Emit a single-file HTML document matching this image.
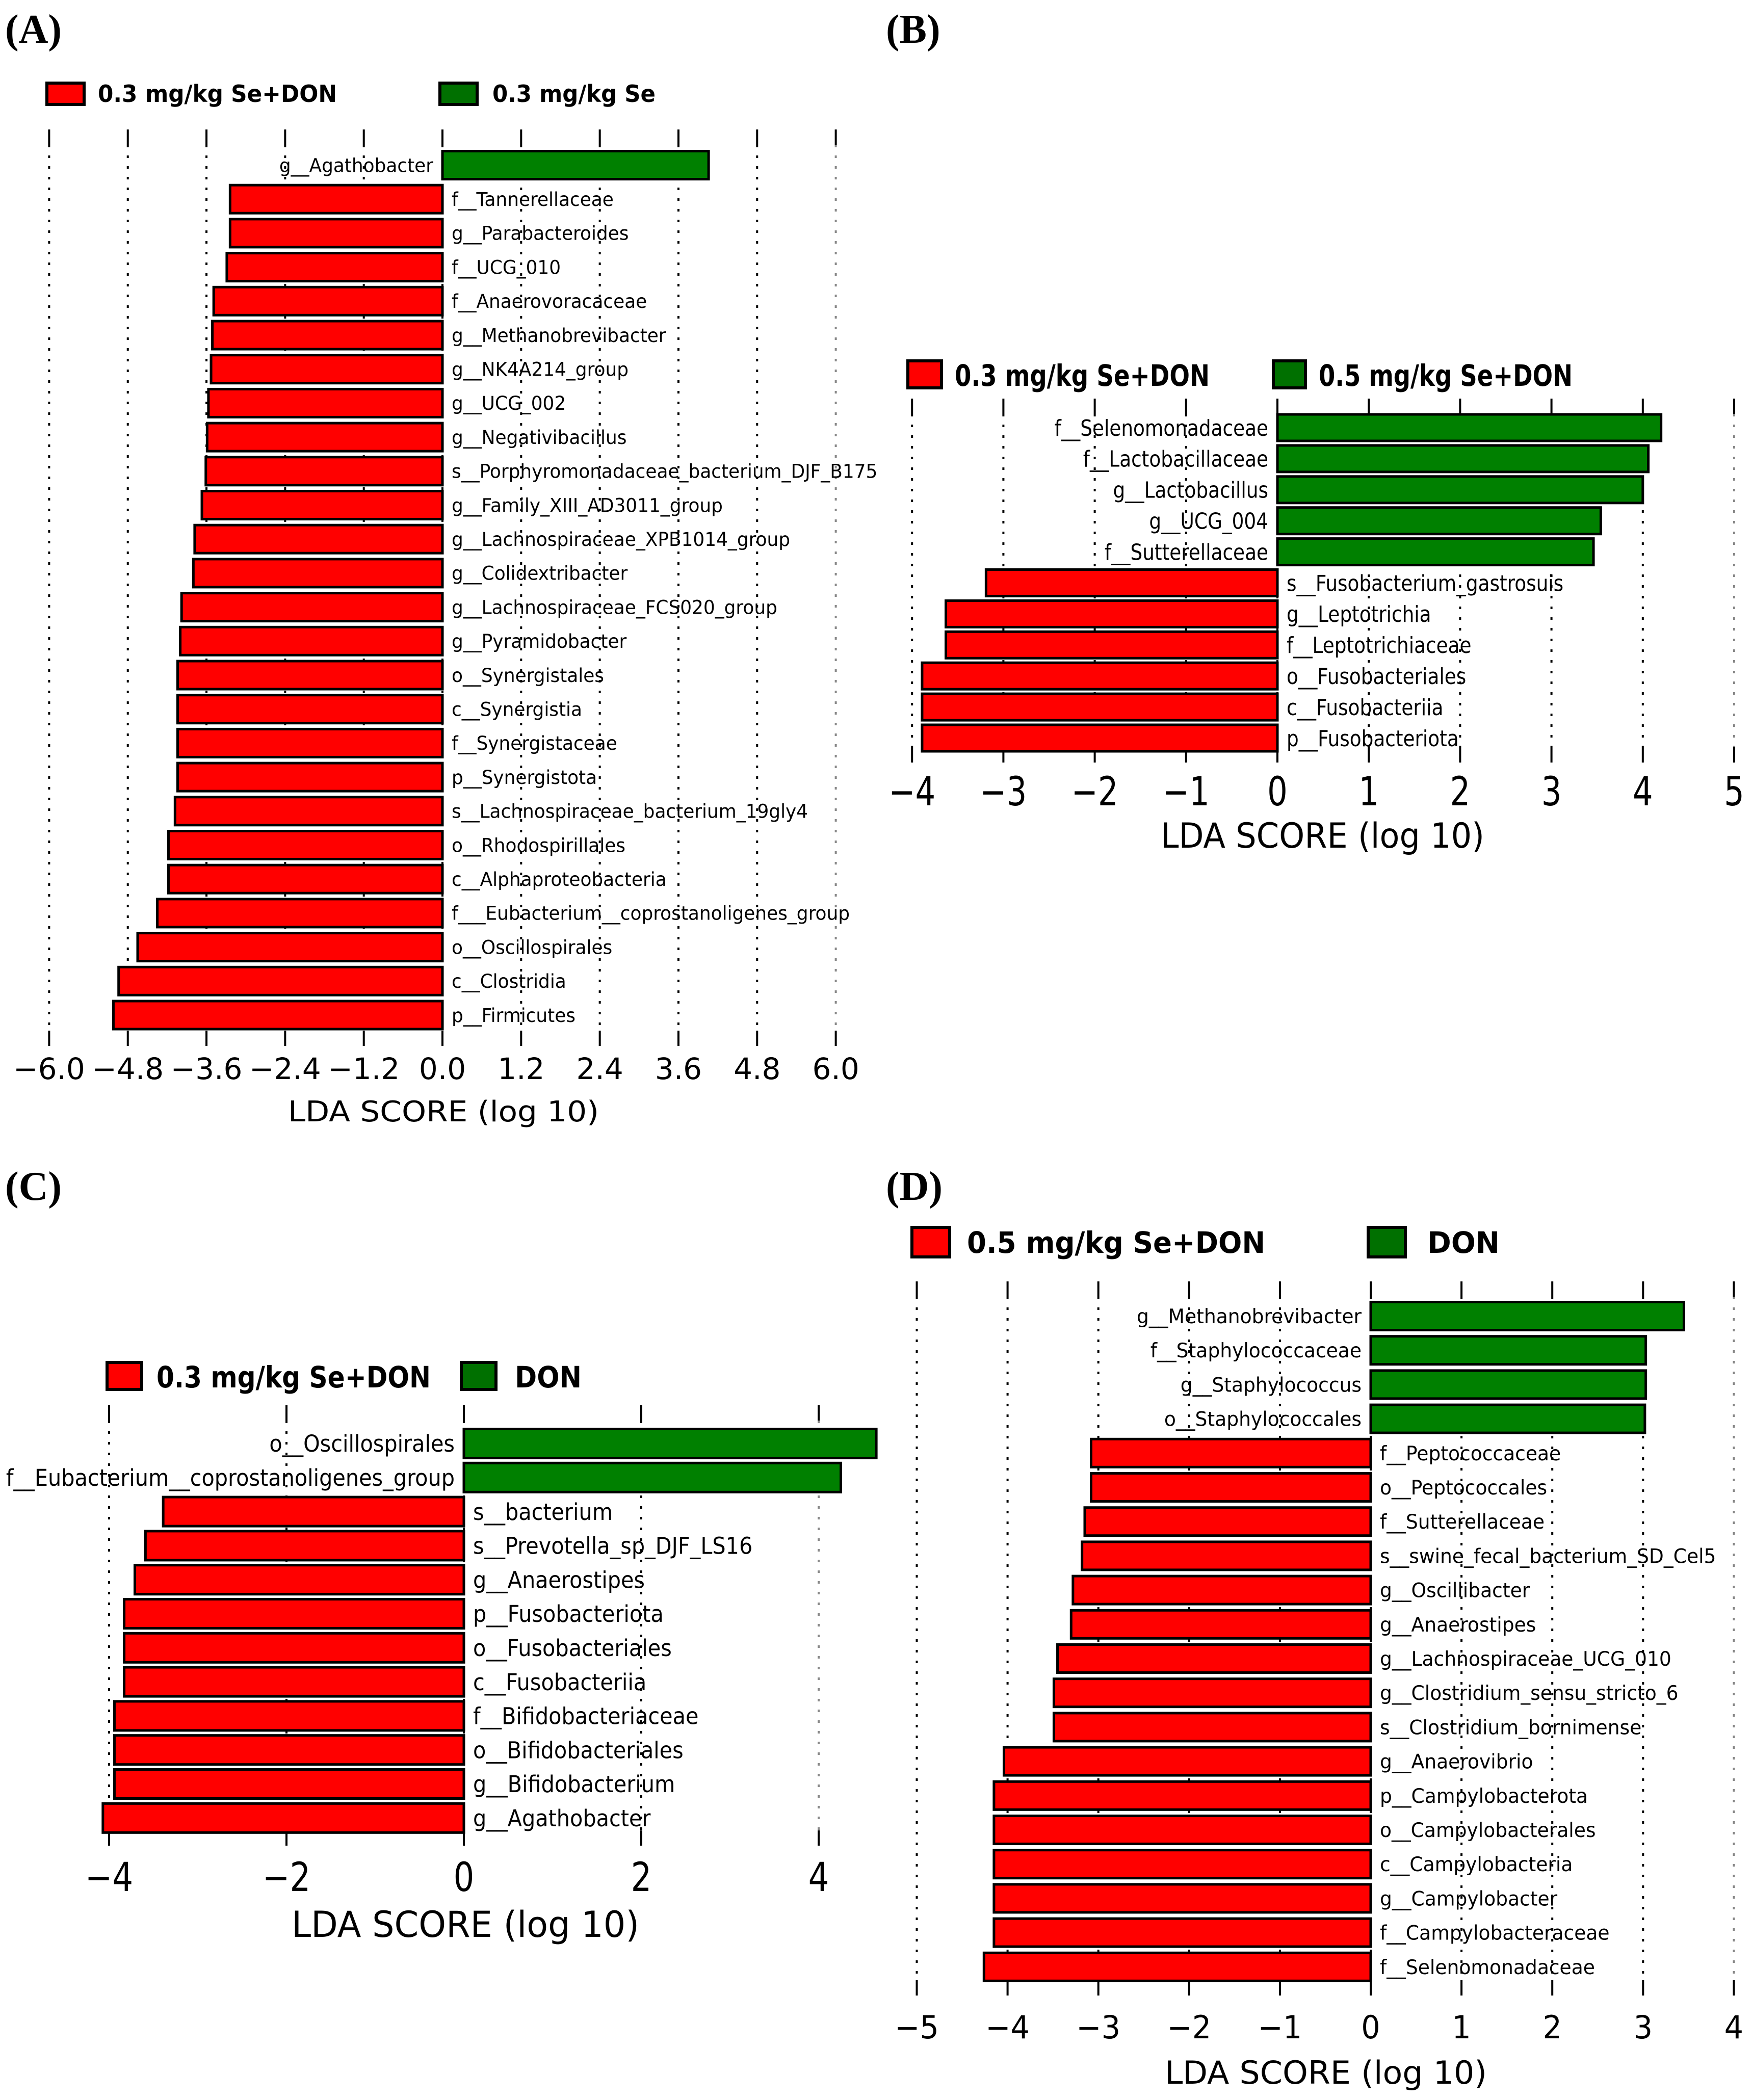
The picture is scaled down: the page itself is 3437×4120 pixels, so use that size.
<!DOCTYPE html>
<html><head><meta charset="utf-8"><style>
html,body{margin:0;padding:0;background:#fff;}
svg{display:block;}
</style></head>
<body>
<svg id="fig" xmlns="http://www.w3.org/2000/svg" width="3437" height="4120" viewBox="0 0 3437 4120">
<rect x="0" y="0" width="3437" height="4120" fill="#fff"/>
<text x="10" y="84" font-family="Liberation Serif, serif" font-weight="bold" font-size="80">(A)</text>
<text x="1738" y="84" font-family="Liberation Serif, serif" font-weight="bold" font-size="80">(B)</text>
<text x="10" y="2354" font-family="Liberation Serif, serif" font-weight="bold" font-size="80">(C)</text>
<text x="1738" y="2354" font-family="Liberation Serif, serif" font-weight="bold" font-size="80">(D)</text>
</svg>
<script>
// ---- Panel A data ----
const catsA = ["g__Agathobacter","f__Tannerellaceae","g__Parabacteroides","f__UCG_010","f__Anaerovoracaceae","g__Methanobrevibacter","g__NK4A214_group","g__UCG_002","g__Negativibacillus","s__Porphyromonadaceae_bacterium_DJF_B175","g__Family_XIII_AD3011_group","g__Lachnospiraceae_XPB1014_group","g__Colidextribacter","g__Lachnospiraceae_FCS020_group","g__Pyramidobacter","o__Synergistales","c__Synergistia","f__Synergistaceae","p__Synergistota","s__Lachnospiraceae_bacterium_19gly4","o__Rhodospirillales","c__Alphaproteobacteria","f___Eubacterium__coprostanoligenes_group","o__Oscillospirales","c__Clostridia","p__Firmicutes"];
const valsA = [4.06,-3.24,-3.24,-3.29,-3.49,-3.51,-3.53,-3.57,-3.59,-3.61,-3.67,-3.78,-3.80,-3.98,-4.00,-4.04,-4.04,-4.04,-4.04,-4.08,-4.18,-4.18,-4.35,-4.65,-4.94,-5.02];
const ticksA = [-6,-4.8,-3.6,-2.4,-1.2,0,1.2,2.4,3.6,4.8,6];
const tickLabelsA = ["\u22126.0","\u22124.8","\u22123.6","\u22122.4","\u22121.2","0.0","1.2","2.4","3.6","4.8","6.0"];
const legendA = ["0.3 mg/kg Se+DON","0.3 mg/kg Se"];
// ---- Panel B data ----
const catsB = ["f__Selenomonadaceae","f__Lactobacillaceae","g__Lactobacillus","g__UCG_004","f__Sutterellaceae","s__Fusobacterium_gastrosuis","g__Leptotrichia","f__Leptotrichiaceae","o__Fusobacteriales","c__Fusobacteriia","p__Fusobacteriota"];
const valsB = [4.20,4.06,4.00,3.54,3.46,-3.19,-3.63,-3.63,-3.89,-3.89,-3.89];
const ticksB = [-4,-3,-2,-1,0,1,2,3,4,5];
const tickLabelsB = ["\u22124","\u22123","\u22122","\u22121","0","1","2","3","4","5"];
const legendB = ["0.3 mg/kg Se+DON","0.5 mg/kg Se+DON"];
// ---- Panel C data ----
const catsC = ["o__Oscillospirales","f__Eubacterium__coprostanoligenes_group","s__bacterium","s__Prevotella_sp_DJF_LS16","g__Anaerostipes","p__Fusobacteriota","o__Fusobacteriales","c__Fusobacteriia","f__Bifidobacteriaceae","o__Bifidobacteriales","g__Bifidobacterium","g__Agathobacter"];
const valsC = [4.65,4.25,-3.39,-3.59,-3.71,-3.83,-3.83,-3.83,-3.94,-3.94,-3.94,-4.07];
const ticksC = [-4,-2,0,2,4];
const tickLabelsC = ["\u22124","\u22122","0","2","4"];
const legendC = ["0.3 mg/kg Se+DON","DON"];
// ---- Panel D data ----
const catsD = ["g__Methanobrevibacter","f__Staphylococcaceae","g__Staphylococcus","o__Staphylococcales","f__Peptococcaceae","o__Peptococcales","f__Sutterellaceae","s__swine_fecal_bacterium_SD_Cel5","g__Oscillibacter","g__Anaerostipes","g__Lachnospiraceae_UCG_010","g__Clostridium_sensu_stricto_6","s__Clostridium_bornimense","g__Anaerovibrio","p__Campylobacterota","o__Campylobacterales","c__Campylobacteria","g__Campylobacter","f__Campylobacteraceae","f__Selenomonadaceae"];
const valsD = [3.45,3.03,3.03,3.02,-3.08,-3.08,-3.15,-3.18,-3.28,-3.30,-3.45,-3.49,-3.49,-4.04,-4.15,-4.15,-4.15,-4.15,-4.15,-4.26];
const ticksD = [-5,-4,-3,-2,-1,0,1,2,3,4];
const tickLabelsD = ["\u22125","\u22124","\u22123","\u22122","\u22121","0","1","2","3","4"];
const legendD = ["0.5 mg/kg Se+DON","DON"];

const NS = "http://www.w3.org/2000/svg";
const svg = document.getElementById('fig');
function mk(tag, attrs, parent){
  const e = document.createElementNS(NS, tag);
  for (const k in attrs) e.setAttribute(k, attrs[k]);
  (parent||svg).appendChild(e);
  return e;
}
function txt(parent, s, x, y, size, family, anchor, sx, weight, tl){
  const t = mk('text', {transform:`translate(${x},${y}) scale(${sx},1)`, 'font-size':size, 'font-family':family, 'text-anchor':anchor, fill:'#000'}, parent);
  if (weight) t.setAttribute('font-weight', weight);
  if (tl){ t.setAttribute('textLength', tl); t.setAttribute('lengthAdjust','spacingAndGlyphs'); }
  t.textContent = s;
  return t;
}

function panel(id, cats, vals, ticks, tickLabels, legend, c){
  const g = mk('g', {});
  
  
  const xs = v => c.zero + v * c.unit;
  const ys = i => c.firstY + i * c.step;
  ticks.forEach((t, i) => {
    const x = xs(t);
    const gl = mk('line', {x1:x, x2:x, y1:c.yTop+30, y2:c.yBot-30, stroke:(i===ticks.length-1?'#888':'#000'), 'stroke-width':4, 'stroke-dasharray':'5 16'}, g);
    
    
    mk('line', {x1:x, x2:x, y1:c.yTop, y2:c.yTop+30, stroke:'#000', 'stroke-width':4}, g);
    mk('line', {x1:x, x2:x, y1:c.yBot-30, y2:c.yBot, stroke:'#000', 'stroke-width':4}, g);
    const tl = txt(g, tickLabels[i], x, c.tickY, c.tickSize, c.tickFont, 'middle', c.tickSx);
    
    
  });
  cats.forEach((name, i) => {
    const v = vals[i], y = ys(i);
    const x1 = Math.min(xs(0), xs(v)), w = Math.abs(xs(v) - xs(0));
    const b = mk('rect', {x:x1, y:y - c.barH/2, width:w, height:c.barH, fill:(v>0?'#008000':'#ff0000'), stroke:'#000', 'stroke-width':5}, g);
    
    
    const lx = v > 0 ? xs(0) - 18 : xs(0) + 18;
    const l = txt(g, name, lx, y + c.labSize*0.36, c.labSize, c.labFont, v > 0 ? 'end' : 'start', c.labSx);
    
    
  });
  const at = txt(g, 'LDA SCORE (log 10)', c.titleX, c.titleY, c.titleSize, c.tickFont, 'start', 1, null, c.titleW);
  
  
  const colors = ['#ff0000','#007000'];
  legend.forEach((s, i) => {
    const L = c.leg[i];
    const r = mk('rect', {x:L.rx, y:c.legTop, width:L.rw, height:c.legH, fill:colors[i], stroke:'#000', 'stroke-width':6}, g);
    
    
    const t = txt(g, s, L.tx, c.legBase, c.legSize, c.legFont, 'start', 1, 'bold', L.tw);
    
    
  });
}

const DJ = '"DejaVu Sans", "Liberation Sans", sans-serif';
panel('a', catsA, valsA, ticksA, tickLabelsA, legendA, {
  zero:868, unit:128.6, yTop:254, yBot:2052, firstY:324, step:66.7, barH:55,
  tickY:2117, tickSize:58, tickFont:DJ, tickSx:1,
  labSize:37, labFont:DJ, labSx:0.97,
  titleX:565, titleY:2200, titleSize:56, titleW:610,
  legTop:163, legH:42, legBase:200, legSize:46, legFont:DJ,
  leg:[{rx:92,rw:73,tx:192,tw:469},{rx:863,rw:73,tx:966,tw:320}]
});
panel('b', catsB, valsB, ticksB, tickLabelsB, legendB, {
  zero:2506, unit:179.2, yTop:782, yBot:1496, firstY:839, step:60.9, barH:52,
  tickY:1580, tickSize:78, tickFont:DJ, tickSx:0.8,
  labSize:44, labFont:DJ, labSx:0.85,
  titleX:2277, titleY:1663, titleSize:68, titleW:635,
  legTop:708, legH:53, legBase:757, legSize:58, legFont:DJ,
  leg:[{rx:1781,rw:66,tx:1873,tw:500},{rx:2498,rw:63,tx:2587,tw:498}]
});
panel('c', catsC, valsC, ticksC, tickLabelsC, legendC, {
  zero:910, unit:174, yTop:2757, yBot:3621, firstY:2832, step:66.8, barH:57,
  tickY:3710, tickSize:78, tickFont:DJ, tickSx:0.82,
  labSize:45, labFont:DJ, labSx:0.92,
  titleX:572, titleY:3800, titleSize:70, titleW:682,
  legTop:2673, legH:53, legBase:2722, legSize:58, legFont:DJ,
  leg:[{rx:210,rw:68,tx:307,tw:538},{rx:905,rw:68,tx:1010,tw:131}]
});
panel('d', catsD, valsD, ticksD, tickLabelsD, legendD, {
  zero:2689, unit:178.1, yTop:2514, yBot:3915, firstY:2582, step:67.2, barH:55,
  tickY:3999, tickSize:62, tickFont:DJ, tickSx:0.95,
  labSize:39, labFont:DJ, labSx:0.965,
  titleX:2285, titleY:4088, titleSize:62, titleW:632,
  legTop:2408, legH:58, legBase:2458, legSize:58, legFont:DJ,
  leg:[{rx:1789,rw:74,tx:1897,tw:585},{rx:2684,rw:73,tx:2800,tw:142}]
});
</script>
</body></html>
